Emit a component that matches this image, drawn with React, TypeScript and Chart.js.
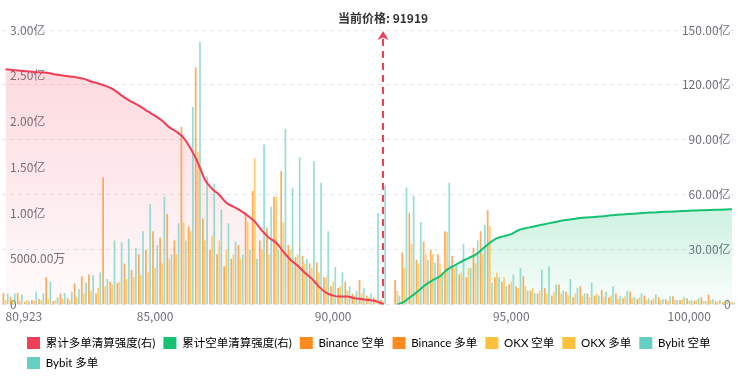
import React, { useEffect, useRef } from 'react';
import { Chart, registerables } from 'chart.js';

Chart.register(...registerables);

// Price level categories (x axis)
const PRICE_LEVELS = [
  80923,
  81000, 81200, 81400, 81600, 81800, 82000, 82200, 82400, 82600, 82800,
  83000, 83200, 83400, 83600, 83800, 84000, 84200, 84400, 84600, 84800,
  85000, 85200, 85400, 85600, 85800, 86000, 86200, 86400, 86600, 86800,
  87000, 87200, 87400, 87600, 87800, 88000, 88200, 88400, 88600, 88800,
  89000, 89200, 89400, 89600, 89800, 90000, 90200, 90400, 90600, 90800,
  91000, 91200, 91400, 91600, 91800, 92000, 92200, 92400, 92600, 92800,
  93000, 93200, 93400, 93600, 93800, 94000, 94200, 94400, 94600, 94800,
  95000, 95200, 95400, 95600, 95800, 96000, 96200, 96400, 96600, 96800,
  97000, 97200, 97400, 97600, 97800, 98000, 98200, 98400, 98600, 98800,
  99000, 99200, 99400, 99600, 99800, 100000, 100200, 100400, 100600, 100800,
  101000, 101200,
];

const X_TICK_PRICES = [80923, 85000, 90000, 95000, 100000];
const CURRENT_PRICE = 91919;

// Long side (below current price), in 亿, from 80923 up to 91400
const LONG_BINANCE = [
  0.13, 0.08, 0.13, 0.03, 0.05, 0.06, 0.30, 0.04, 0.12, 0.07,
  0.23, 0.31, 0.33, 0.12, 1.39, 0.25, 0.24, 0.45, 0.38, 0.55,
  0.60, 0.80, 0.73, 0.99, 0.70, 1.94, 0.85, 2.59, 0.94, 0.60,
  0.55, 0.42, 0.50, 0.65, 1.01, 1.24, 0.70, 0.84, 1.18, 1.46,
  0.65, 0.52, 0.53, 0.45, 0.46, 0.30, 0.20, 0.18, 0.25, 0.12,
  0.27, 0.10, 0.08, 0.05,
];
const LONG_OKX = [
  0.05, 0.05, 0.04, 0.05, 0.04, 0.05, 0.06, 0.05, 0.06, 0.05,
  0.08, 0.12, 0.15, 0.18, 0.20, 0.22, 0.25, 0.28, 0.30, 0.32,
  0.35, 0.40, 0.45, 0.50, 0.55, 0.90, 0.80, 1.67, 0.70, 0.75,
  0.70, 0.60, 0.55, 0.50, 0.90, 1.60, 0.60, 0.55, 1.18, 0.90,
  0.60, 0.55, 0.45, 0.40, 0.35, 0.30, 0.25, 0.20, 0.15, 0.10,
  0.12, 0.08, 0.06, 0.04,
];
const LONG_BYBIT = [
  0.12, 0.12, 0.11, 0.04, 0.14, 0.12, 0.25, 0.08, 0.13, 0.14,
  0.17, 0.24, 0.32, 0.35, 0.28, 0.70, 0.68, 0.72, 0.62, 0.80,
  1.10, 0.65, 1.18, 0.55, 0.89, 0.70, 2.16, 2.87, 1.40, 1.32,
  1.04, 0.89, 0.69, 0.55, 0.60, 0.50, 1.75, 1.07, 0.60, 1.92,
  1.27, 1.61, 0.50, 1.57, 1.33, 0.80, 0.41, 0.35, 0.20, 0.15,
  0.18, 0.12, 1.00, 1.30,
];
const LONG_CUM = [
  128.5, 128.2, 127.8, 127.5, 127.1, 126.8, 126.5, 125.7, 125.2, 124.6,
  124.1, 123.3, 121.9, 120.8, 119.5, 117.8, 115.1, 112.4, 110.2, 108.0,
  105.5, 103.1, 100.4, 96.8, 94.4, 91.1, 85.1, 77.5, 68.2, 63.3,
  60.0, 55.6, 53.5, 51.3, 48.5, 45.3, 40.4, 36.5, 33.8, 28.9,
  24.5, 21.3, 17.5, 14.2, 9.8, 6.5, 4.9, 4.4, 4.4, 3.5,
  3.0, 2.5, 1.9, 0.3,
];

// Short side (above current price), in 亿, from 91800 up to 101200
const SHORT_BINANCE = [
  0.27, 0.57, 1.00, 0.49, 0.69, 0.60, 0.55, 0.80, 0.53, 0.33,
  0.30, 0.62, 0.80, 1.03, 0.30, 0.25, 0.22, 0.20, 0.31, 0.15,
  0.12, 0.18, 0.10, 0.22, 0.14, 0.08, 0.20, 0.12, 0.10, 0.16,
  0.08, 0.12, 0.07, 0.14, 0.06, 0.10, 0.05, 0.08, 0.06, 0.09,
  0.05, 0.07, 0.04, 0.08, 0.11, 0.04, 0.03, 0.02,
];
const SHORT_OKX = [
  0.15, 0.40, 0.66, 0.45, 0.55, 0.55, 0.45, 0.79, 0.40, 0.35,
  0.40, 0.45, 0.55, 0.86, 0.35, 0.30, 0.25, 0.18, 0.20, 0.18,
  0.15, 0.12, 0.14, 0.12, 0.10, 0.12, 0.10, 0.08, 0.12, 0.08,
  0.10, 0.06, 0.09, 0.07, 0.08, 0.05, 0.07, 0.05, 0.04, 0.05,
  0.06, 0.04, 0.05, 0.04, 0.05, 0.03, 0.04, 0.03,
];
const SHORT_BYBIT = [
  0.10, 1.28, 1.19, 0.90, 0.49, 0.46, 0.35, 1.33, 0.45, 0.66,
  0.40, 0.70, 0.87, 0.24, 0.30, 0.20, 0.33, 0.40, 0.15, 0.12,
  0.38, 0.42, 0.22, 0.15, 0.28, 0.18, 0.12, 0.24, 0.10, 0.14,
  0.20, 0.09, 0.15, 0.08, 0.12, 0.07, 0.11, 0.06, 0.09, 0.05,
  0.08, 0.05, 0.07, 0.04, 0.06, 0.05, 0.03, 0.02,
];
const SHORT_CUM = [
  0, 1.6, 4.6, 7.6, 10.9, 13.4, 15.5, 19.1, 21.3, 23.5,
  25.4, 27.3, 30.5, 33.8, 36.3, 37.4, 38.5, 40.6, 41.7, 42.5,
  43.4, 44.2, 45.0, 45.8, 46.4, 46.9, 47.5, 47.7, 48.0, 48.3,
  48.8, 49.1, 49.4, 49.6, 49.9, 50.2, 50.3, 50.6, 50.7, 50.9,
  51.1, 51.3, 51.4, 51.6, 51.7, 51.8, 51.9, 52.1,
];

const LABELS = [
  '累计多单清算强度(右)',
  '累计空单清算强度(右)',
  'Binance 空单',
  'Binance 多单',
  'OKX 空单',
  'OKX 多单',
  'Bybit 空单',
  'Bybit 多单',
];

const RED = '#F23D56';
const GREEN = '#15C272';
const BINANCE = '#FF8A1E';
const OKX = '#FFC13B';
const BYBIT = '#66CFC3';
const BINANCE_BAR = 'rgba(255,138,30,0.72)';
const OKX_BAR = 'rgba(255,190,55,0.72)';
const BYBIT_BAR = 'rgba(102,207,195,0.68)';
const LEGEND_COLORS = [RED, GREEN, BINANCE, BINANCE, OKX, OKX, BYBIT, BYBIT];
const AXIS_COLOR = '#6E7079';
const FONT = '"Noto Sans CJK SC", "Noto Sans", sans-serif';
const LEGEND_FONT = 'Lato, "Noto Sans CJK SC", sans-serif';

const fmtLeft = (v: number) =>
  v === 0 ? '0' : v < 1 ? (v * 10000).toFixed(2) + '万' : v.toFixed(2) + '亿';
const fmtRight = (v: number) => (v === 0 ? '0' : v.toFixed(2) + '亿');

export default function App() {
  const ref = useRef<HTMLCanvasElement>(null);

  useEffect(() => {
    document.body.style.margin = '0';
    const canvas = ref.current;
    if (!canvas) return;
    Chart.defaults.font.family = FONT;

    const N = PRICE_LEVELS.length;
    const longPad = (arr: number[]) => [...arr, ...new Array(N - arr.length).fill(null)];
    const shortPad = (arr: number[]) => [...new Array(N - arr.length).fill(null), ...arr];
    const tickIdx = X_TICK_PRICES.map((p) => PRICE_LEVELS.indexOf(p));
    const tickSet = new Set(tickIdx);
    const priceLineIdx = LONG_CUM.length - 1;

    const gradient = (rgb: string, stops: [number, number][]) => (ctx: any) => {
      const chart = ctx.chart;
      const a = chart.chartArea;
      if (!a) return `rgba(${rgb},0.1)`;
      const g = chart.ctx.createLinearGradient(0, a.top, 0, a.bottom);
      stops.forEach(([o, al]) => g.addColorStop(o, `rgba(${rgb},${al})`));
      return g;
    };

    const priceLine = {
      id: 'priceLine',
      afterDatasetsDraw(chart: any) {
        const { ctx, chartArea, scales } = chart;
        const x = scales.x.getPixelForValue(priceLineIdx);
        const top = chartArea.top;
        ctx.save();
        ctx.strokeStyle = RED;
        ctx.lineWidth = 2;
        ctx.setLineDash([7, 5]);
        ctx.beginPath();
        ctx.moveTo(x, top + 9);
        ctx.lineTo(x, chartArea.bottom);
        ctx.stroke();
        ctx.setLineDash([]);
        ctx.fillStyle = RED;
        ctx.beginPath();
        ctx.moveTo(x, top + 1);
        ctx.lineTo(x + 5.5, top + 10);
        ctx.lineTo(x, top + 7.5);
        ctx.lineTo(x - 5.5, top + 10);
        ctx.closePath();
        ctx.fill();
        ctx.font = `bold 12px ${FONT}`;
        ctx.fillStyle = '#333';
        ctx.textAlign = 'center';
        ctx.textBaseline = 'middle';
        ctx.fillText('当前价格: ' + CURRENT_PRICE, x, top - 12);
        ctx.restore();
      },
    };

    const legendShift = {
      id: 'legendShift',
      afterLayout(chart: any) {
        const l = chart.legend;
        if (l) {
          l.left += 17;
          l.right += 17;
        }
      },
    };

    const barCommon = {
      type: 'bar' as const,
      yAxisID: 'y',
      order: 1,
      skipNull: true,
      categoryPercentage: 0.9,
      barPercentage: 0.8,
    };

    const chart = new Chart(canvas, {
      type: 'bar',
      data: {
        labels: PRICE_LEVELS.map(String),
        datasets: [
          {
            type: 'line',
            label: LABELS[0],
            data: longPad(LONG_CUM),
            yAxisID: 'yR',
            borderColor: RED,
            backgroundColor: gradient('242,61,86', [[0, 0.22], [1, 0.02]]),
            fill: 'origin',
            borderWidth: 2,
            pointRadius: 0,
            cubicInterpolationMode: 'monotone',
            order: 0,
          } as any,
          {
            type: 'line',
            label: LABELS[1],
            data: shortPad(SHORT_CUM),
            yAxisID: 'yR',
            borderColor: GREEN,
            backgroundColor: gradient('21,194,114', [[0, 0.35], [0.7, 0.19], [1, 0.02]]),
            fill: 'origin',
            borderWidth: 2,
            pointRadius: 0,
            cubicInterpolationMode: 'monotone',
            order: 0,
          } as any,
          { ...barCommon, label: LABELS[2], data: shortPad(SHORT_BINANCE), backgroundColor: BINANCE_BAR } as any,
          { ...barCommon, label: LABELS[3], data: longPad(LONG_BINANCE), backgroundColor: BINANCE_BAR } as any,
          { ...barCommon, label: LABELS[4], data: shortPad(SHORT_OKX), backgroundColor: OKX_BAR } as any,
          { ...barCommon, label: LABELS[5], data: longPad(LONG_OKX), backgroundColor: OKX_BAR } as any,
          { ...barCommon, label: LABELS[6], data: shortPad(SHORT_BYBIT), backgroundColor: BYBIT_BAR } as any,
          { ...barCommon, label: LABELS[7], data: longPad(LONG_BYBIT), backgroundColor: BYBIT_BAR } as any,
        ],
      },
      options: {
        responsive: false,
        animation: false,
        layout: { padding: { top: 30, left: 2, right: 0, bottom: 0 } },
        scales: {
          x: {
            type: 'category',
            offset: true,
            grid: { display: false, drawTicks: false },
            border: { display: false },
            afterBuildTicks: (s: any) => {
              s.ticks = [...tickIdx, N - 1].map((v) => ({ value: v }));
            },
            ticks: {
              autoSkip: false,
              maxRotation: 0,
              minRotation: 0,
              align: 'inner',
              padding: 5,
              color: AXIS_COLOR,
              font: { size: 12 },
              callback: (v: any) =>
                tickSet.has(v) ? PRICE_LEVELS[v].toLocaleString('en-US') : '',
            },
          },
          y: {
            position: 'left',
            min: 0,
            max: 3,
            grid: { display: false, drawTicks: false },
            border: { display: false },
            afterFit: (s: any) => {
              s.width = 0;
            },
            ticks: {
              mirror: true,
              padding: 8,
              stepSize: 0.5,
              color: AXIS_COLOR,
              font: { size: 12 },
              callback: (v: any) => fmtLeft(Number(v)),
            },
          },
          yR: {
            position: 'right',
            min: 0,
            max: 150,
            grid: { color: '#E3E6EC', drawTicks: false },
            border: { display: false, dash: [4, 4] },
            afterFit: (s: any) => {
              s.width = 0;
            },
            ticks: {
              mirror: true,
              padding: -5,
              stepSize: 30,
              color: AXIS_COLOR,
              font: { size: 12 },
              callback: (v: any) => fmtRight(Number(v)),
            },
          },
        },
        plugins: {
          filler: { drawTime: 'beforeDatasetsDraw' },
          tooltip: { enabled: false },
          title: { display: false },
          legend: {
            position: 'bottom',
            align: 'start',
            labels: {
              boxWidth: 13,
              boxHeight: 12,
              padding: 8,
              color: '#333',
              font: { size: 11.5, family: LEGEND_FONT },
              generateLabels: (c: any) =>
                c.data.datasets.map((d: any, i: number) => ({
                  text: d.label,
                  fillStyle: LEGEND_COLORS[i],
                  strokeStyle: LEGEND_COLORS[i],
                  lineWidth: 0,
                  hidden: !c.isDatasetVisible(i),
                  datasetIndex: i,
                })),
            },
          },
        },
      } as any,
      plugins: [priceLine, legendShift],
    });

    return () => {
      chart.destroy();
    };
  }, []);

  return (
    <div style={{ width: 737, height: 379 }}>
      <canvas ref={ref} width={737} height={379} style={{ display: 'block' }} />
    </div>
  );
}
